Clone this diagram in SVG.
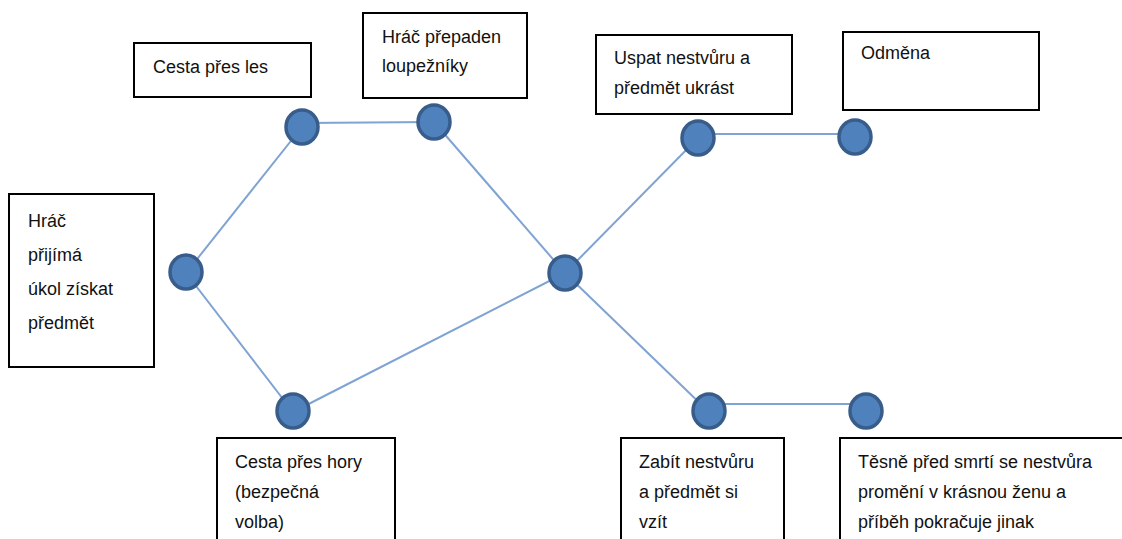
<svg xmlns="http://www.w3.org/2000/svg" width="1122" height="539" viewBox="0 0 1122 539">
<style>
.box{fill:#fff;stroke:#000;stroke-width:2}
.t{font-family:"Liberation Sans",Arial,sans-serif;font-size:18px;fill:#111}
.edge{stroke:#7fa3d3;stroke-width:2;fill:none}
.node{fill:#4f81bd;stroke:#385d8a;stroke-width:3.5}
</style>
<rect width="1122" height="539" fill="#fff"/>
<g id="connectors">
<line class="edge" x1="186" y1="273" x2="302" y2="127"/>
<line class="edge" x1="302" y1="123" x2="434" y2="122"/>
<line class="edge" x1="434" y1="122" x2="565" y2="273"/>
<line class="edge" x1="186" y1="273" x2="293" y2="412"/>
<line class="edge" x1="293" y1="412" x2="565" y2="273"/>
<line class="edge" x1="565" y1="273" x2="697" y2="139"/>
<line class="edge" x1="697" y1="134" x2="855" y2="134"/>
<line class="edge" x1="565" y1="273" x2="709" y2="412"/>
<line class="edge" x1="709" y1="404" x2="866" y2="404"/>
</g>
<g id="start-node"><ellipse class="node" cx="186" cy="272" rx="16" ry="17"/></g>
<g id="les-node"><ellipse class="node" cx="302" cy="127" rx="16" ry="17"/></g>
<g id="prepaden-node"><ellipse class="node" cx="434" cy="122" rx="16" ry="17"/></g>
<g id="center-node"><ellipse class="node" cx="565" cy="273" rx="16" ry="17"/></g>
<g id="hory-node"><ellipse class="node" cx="293" cy="411" rx="16" ry="17"/></g>
<g id="uspat-node"><ellipse class="node" cx="698" cy="138" rx="16" ry="17"/></g>
<g id="odmena-node"><ellipse class="node" cx="855" cy="137" rx="16" ry="17"/></g>
<g id="zabit-node"><ellipse class="node" cx="709" cy="411" rx="16" ry="17"/></g>
<g id="tesne-node"><ellipse class="node" cx="866" cy="411" rx="16" ry="17"/></g>

<g id="box-start">
<rect class="box" x="9" y="194" width="145" height="173"/>
<text class="t" x="28" y="227">Hráč</text>
<text class="t" x="28" y="261">přijímá</text>
<text class="t" x="28" y="295">úkol získat</text>
<text class="t" x="28" y="329">předmět</text>
</g>
<g id="box-les">
<rect class="box" x="134" y="43" width="177" height="54"/>
<text class="t" x="153" y="73">Cesta přes les</text>
</g>
<g id="box-prepaden">
<rect class="box" x="363" y="13" width="164" height="85"/>
<text class="t" x="382" y="43">Hráč přepaden</text>
<text class="t" x="382" y="72">loupežníky</text>
</g>
<g id="box-uspat">
<rect class="box" x="596" y="35" width="196" height="79"/>
<text class="t" x="614" y="64">Uspat nestvůru a</text>
<text class="t" x="614" y="94">předmět ukrást</text>
</g>
<g id="box-odmena">
<rect class="box" x="843" y="32" width="196" height="78"/>
<text class="t" x="861" y="59">Odměna</text>
</g>
<g id="box-hory">
<rect class="box" x="217" y="438" width="178" height="110"/>
<text class="t" x="235" y="468">Cesta přes hory</text>
<text class="t" x="235" y="498">(bezpečná</text>
<text class="t" x="235" y="528">volba)</text>
</g>
<g id="box-zabit">
<rect class="box" x="621" y="438" width="163" height="110"/>
<text class="t" x="639" y="468">Zabít nestvůru</text>
<text class="t" x="639" y="498">a předmět si</text>
<text class="t" x="639" y="528">vzít</text>
</g>
<g id="box-tesne">
<rect class="box" x="840" y="438" width="290" height="110"/>
<text class="t" x="858" y="468">Těsně před smrtí se nestvůra</text>
<text class="t" x="858" y="498">promění v krásnou ženu a</text>
<text class="t" x="858" y="528">příběh pokračuje jinak</text>
</g>
</svg>
